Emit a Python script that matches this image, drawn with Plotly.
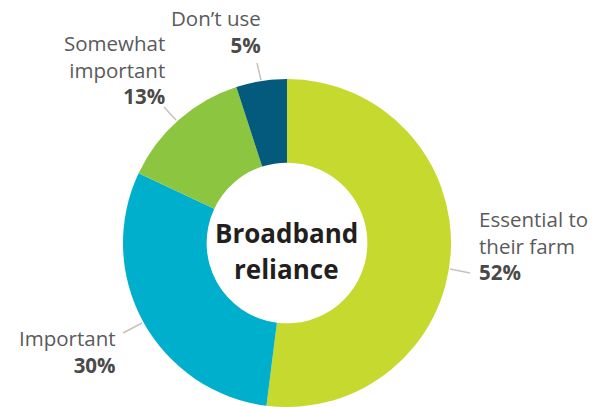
import plotly.graph_objects as go

categories = ["Essential to their farm", "Important", "Somewhat important", "Don’t use"]
label_lines = ["Essential to<br>their farm", "Important", "Somewhat<br>important", "Don’t use"]
values = [52, 30, 13, 5]
colors = ["#C6D92E", "#00AFCB", "#8CC540", "#045A7D"]
center_title = ["Broadband", "reliance"]

W, H = 611, 407

def px(x):
    return x / W

def py(y):
    return 1 - y / H

fig = go.Figure()
fig.add_trace(go.Pie(
    labels=categories,
    values=values,
    marker=dict(colors=colors, line=dict(width=0)),
    sort=False,
    direction="clockwise",
    rotation=0,
    hole=0.49,
    textinfo="none",
    hoverinfo="label+percent",
    showlegend=False,
    domain=dict(x=[px(123), px(451)], y=[0, 328 / H]),
))

FONT = "'Open Sans', 'Noto Sans', sans-serif"

# anchor x (px), xanchor, block center y (px)
label_pos = [
    (477, "left", 245),
    (118, "right", 351.5),
    (167, "right", 69),
    (263, "right", 31),
]

annotations = []
for lbl, v, (ax, xa, yc) in zip(label_lines, values, label_pos):
    annotations.append(dict(
        text=f"<span style='color:#5A5A5A'>{lbl}</span><br><b>{v}%</b>",
        x=px(ax), y=py(yc), xref="paper", yref="paper",
        xanchor=xa, yanchor="middle", align=xa, showarrow=False,
        font=dict(family=FONT, size=20.5, color="#4A4A4A")))

for t, yy in zip(center_title, [232.5, 268.5]):
    annotations.append(dict(text=f"<b>{t}</b>", x=px(286), y=py(yy), xref="paper", yref="paper",
                            xanchor="center", yanchor="middle", showarrow=False,
                            font=dict(family=FONT, size=26, color="#231F20")))

leaders = [
    (450, 269, 470, 273),
    (142, 323, 123, 333),
    (176, 120, 164, 107),
    (261, 80, 257, 63),
]
shapes = [dict(type="line", xref="paper", yref="paper", x0=px(a), y0=py(b), x1=px(c), y1=py(d),
               line=dict(color="#C9C2BC", width=1.5)) for a, b, c, d in leaders]

fig.update_layout(
    width=W, height=H,
    margin=dict(l=0, r=0, t=0, b=0),
    paper_bgcolor="white",
    plot_bgcolor="white",
    annotations=annotations,
    shapes=shapes,
)

fig.write_html("out.html", config={"displayModeBar": False},
               post_script="document.body.style.margin='0';document.body.style.overflow='hidden';")
